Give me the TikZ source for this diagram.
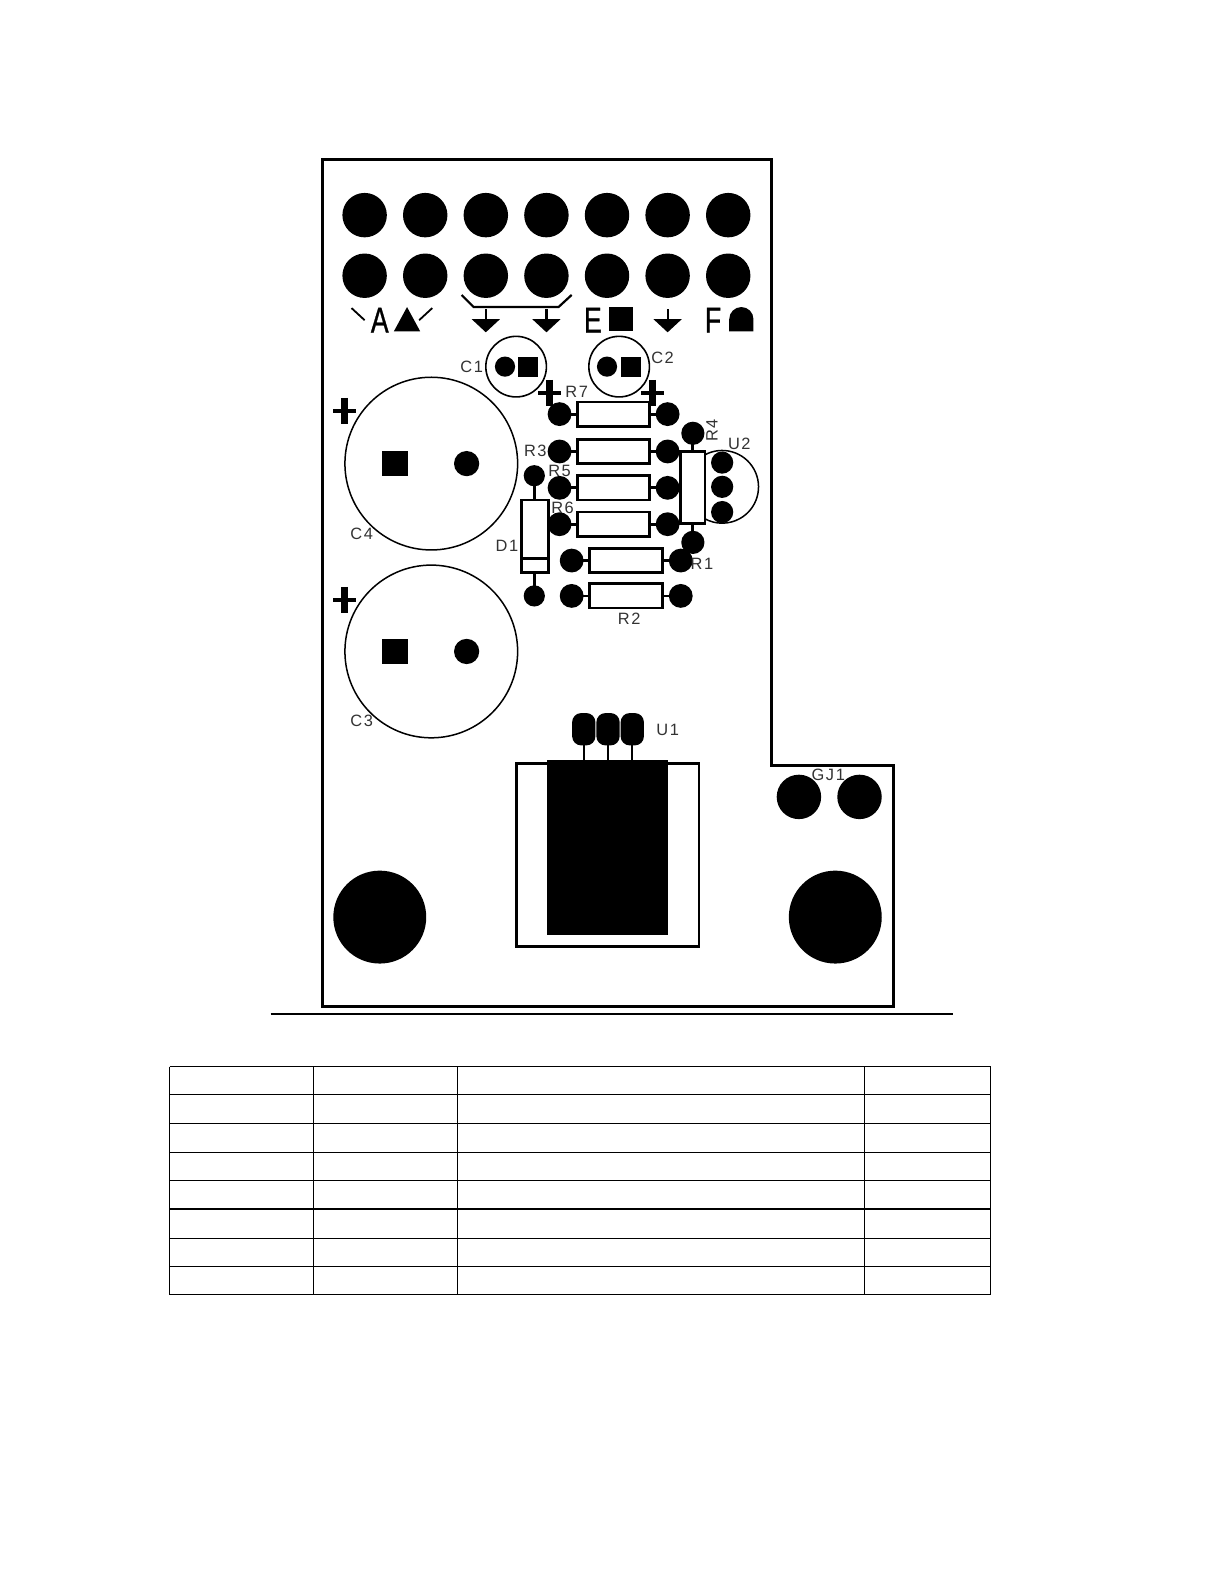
\documentclass[tikz,border=0pt]{standalone}
\usepackage{fontspec}
\setmainfont{Liberation Sans}
\tikzset{
  x=0.505pt,y=-0.505pt,
  wire/.style={draw=black,line width=1.4pt,line join=miter},
  thin wire/.style={draw=black,line width=0.75pt},
  tablerule/.style={draw=black,line width=0.55pt},
  lbl/.style={font=\fontsize{8.2}{9}\selectfont\addfontfeatures{LetterSpace=10},text=black!80,inner sep=0pt},
  biglbl/.style={font=\fontsize{18}{18}\selectfont\addfontfeatures{FakeBold=1},text=black,inner sep=0pt,xscale=0.74,transform shape},
}
\newcommand{\pad}[3]{\fill (#1,#2) circle[radius=#3];}
\newcommand{\sqpad}[3]{\fill (#1-#3,#2-#3) rectangle (#1+#3,#2+#3);}
\newcommand{\hres}[3]{% y, left pad x, right pad x
  \draw[wire] (#2,#1) -- (#3,#1);
  \draw[wire,fill=white] (#2+18,#1-12) rectangle (#3-18,#1+12);
  \pad{#2}{#1}{11.8}\pad{#3}{#1}{11.8}}
\newcommand{\plusmark}[2]{\draw[line width=2pt] (#1-11,#2) -- (#1+11,#2); \draw[line width=3.2pt] (#1,#2-13) -- (#1,#2+13);}
\newcommand{\gndsym}[1]{\draw[line width=1.1pt] (#1,306) -- (#1,318); \fill (#1-14,316) -- (#1+14,316) -- (#1,329) -- cycle;}
\begin{document}
\begin{tikzpicture}
\useasboundingbox (0,0) rectangle (1212,1568.3);
\fill[white] (0,0) rectangle (1212,1568.3);
% board outline
\draw[wire,line width=1.5pt] (319,158) -- (764,158) -- (764,758) -- (885,758) -- (885,997) -- (319,997) -- cycle;
\draw[tablerule,line width=0.9pt] (268,1004) -- (944,1004);
% header pads
\foreach \x in {361,421,481,541,601,661,721}{
  \pad{\x}{213}{22}\pad{\x}{273}{22}}
% top legend
\draw[line width=0.9pt] (348,305) -- (361,317) (428,305) -- (415,317);
\node[biglbl] (la) at (376,317) {A};
\fill (403,304) -- (416,328) -- (390,328) -- cycle;
\draw[line width=1.1pt] (457,292) -- (469,304) -- (553,304) -- (566,292);
\gndsym{481}\gndsym{541}\gndsym{661}
\node[biglbl] (le) at (587,317) {E};
\fill (603,304) rectangle (627,328);
\node[biglbl] (lf) at (706,317) {F};
\fill (722,328) -- (722,316) arc[start angle=180,end angle=360,radius=12] -- (746,328) -- cycle;
% C1 C2
\draw[thin wire,line width=0.8pt] (511,363) circle[radius=30];
\pad{500}{363}{10}\sqpad{523}{363}{10}
\draw[thin wire,line width=0.8pt] (613,363) circle[radius=30];
\pad{601}{363}{10}\sqpad{625}{363}{10}
% C3 C4
\draw[thin wire] (427,459) circle[radius=85.5];
\sqpad{391}{459}{12.5}\pad{462}{459}{12.5}
\draw[thin wire] (427,645) circle[radius=85.5];
\sqpad{391}{645}{12.5}\pad{462}{645}{12.5}
\plusmark{341}{407}\plusmark{341}{594}
% U2 arc
\draw[thin wire] (715,482) ++(-119:36) arc[start angle=-119,end angle=119,radius=36];
% resistors
\hres{410}{554}{661}
\hres{447}{554}{661}
\hres{483}{554}{661}
\hres{519}{554}{661}
\hres{555}{566}{674}
\hres{590}{566}{674}
\plusmark{544}{389}\plusmark{646}{389}
% R4
\draw[wire] (686,429) -- (686,537);
\draw[wire,fill=white] (674,447) rectangle (698,518);
\pad{686}{429}{11.5}\pad{686}{537}{11.5}
\pad{715}{458}{11}\pad{715}{482}{11}\pad{715}{507}{11}
% D1
\draw[wire] (529,471) -- (529,590);
\draw[wire,fill=white] (516,495) rectangle (543,567);
\draw[wire] (516,553) -- (543,553);
\pad{529}{471}{10.5}\pad{529}{590}{10.5}
% U1
\draw[wire] (511,756) rectangle (692,937);
\fill (542,752) rectangle (661,926);
\foreach \x in {578,602,626}{
  \draw[line width=1.1pt] (\x,722) -- (\x,752);
  \fill[rounded corners=4.5pt] (\x-11.5,706) rectangle (\x+11.5,738);}
% GJ1 & mounting holes
\pad{791}{789}{22}\pad{851}{789}{22}
\pad{376}{908}{46}\pad{827}{908}{46}
% labels
\node[lbl] (c1) at (467,363) {C1};
\node[lbl] (c2) at (656,354) {C2};
\node[lbl] (r7) at (571,388) {R7};
\node[lbl] (r3) at (530,446) {R3};
\node[lbl] (r5) at (554,466) {R5};
\node[lbl] (r6) at (557,503) {R6};
\node[lbl] (d1) at (502,540) {D1};
\node[lbl] (r1) at (695,558) {R1};
\node[lbl] (r2) at (623,613) {R2};
\node[lbl,rotate=90] (r4) at (705,426) {R4};
\node[lbl] (u2) at (732,439) {U2};
\node[lbl] (c4) at (358,529) {C4};
\node[lbl] (c3) at (358,714) {C3};
\node[lbl] (u1) at (661,723) {U1};
\node[lbl] (gj) at (820,767) {GJ1};
% table
\foreach \y in {1056,1084,1112,1141,1169,1197,1226,1254,1282}
  \draw[tablerule] (168,\y) -- (981,\y);
\foreach \x in {168,310,453,856,981}
  \draw[tablerule] (\x,1056) -- (\x,1282);
\end{tikzpicture}
\end{document}
